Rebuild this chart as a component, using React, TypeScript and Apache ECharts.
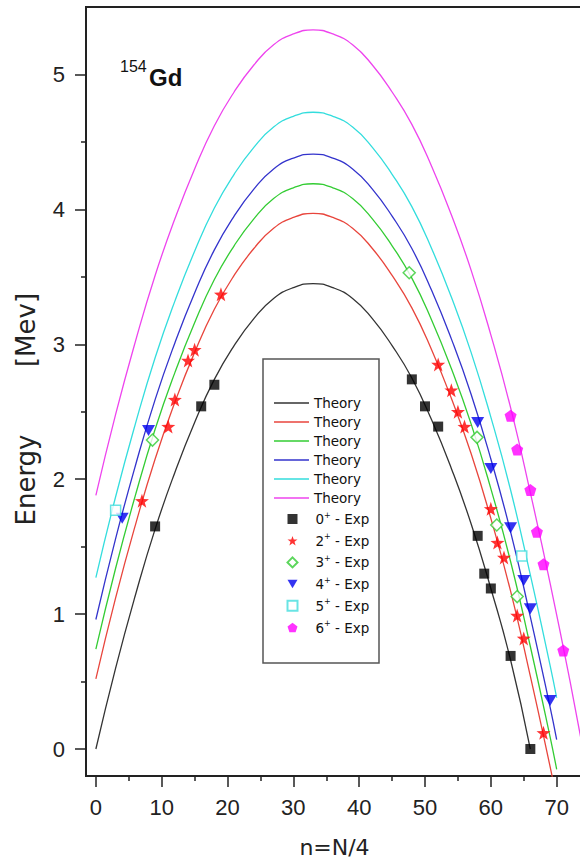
import React, { useEffect, useRef } from "react";
import * as echarts from "echarts";

// Theory curves
const nTheory = [0, 3, 6, 9, 12, 15, 18, 21, 24, 27, 30, 33, 36, 39, 42, 45, 48, 51, 54, 57, 60, 63, 66, 69, 70];
const nBlack = [0, 3, 6, 9, 12, 15, 18, 21, 24, 27, 30, 33, 36, 39, 42, 45, 48, 51, 54, 57, 60, 63, 66];
const nMagenta = [0, 3, 6, 9, 12, 15, 18, 21, 24, 27, 30, 33, 36, 39, 42, 45, 48, 51, 54, 57, 60, 63, 66, 69, 72, 75];
const theory0 = [0, 0.6, 1.14, 1.63, 2.05, 2.42, 2.74, 2.99, 3.19, 3.34, 3.42, 3.45, 3.42, 3.34, 3.19, 2.99, 2.75, 2.44, 2.08, 1.67, 1.19, 0.66, 0.0];
const theory2 = [0.52, 1.12, 1.66, 2.15, 2.57, 2.94, 3.26, 3.51, 3.71, 3.86, 3.94, 3.97, 3.94, 3.86, 3.71, 3.51, 3.27, 2.96, 2.6, 2.19, 1.71, 1.17, 0.54, -0.13, -0.37];
const theory3 = [0.74, 1.34, 1.88, 2.37, 2.79, 3.16, 3.48, 3.73, 3.93, 4.08, 4.16, 4.19, 4.16, 4.08, 3.93, 3.73, 3.49, 3.18, 2.82, 2.41, 1.93, 1.39, 0.76, 0.09, -0.15];
const theory4 = [0.96, 1.56, 2.1, 2.59, 3.01, 3.38, 3.7, 3.95, 4.15, 4.3, 4.38, 4.41, 4.38, 4.3, 4.15, 3.95, 3.71, 3.4, 3.04, 2.63, 2.15, 1.61, 0.98, 0.31, 0.07];
const theory5 = [1.27, 1.87, 2.41, 2.9, 3.32, 3.69, 4.01, 4.26, 4.46, 4.61, 4.69, 4.72, 4.69, 4.61, 4.46, 4.26, 4.02, 3.71, 3.35, 2.94, 2.46, 1.92, 1.29, 0.62, 0.38];
const theory6 = [1.88, 2.48, 3.02, 3.51, 3.93, 4.3, 4.62, 4.87, 5.07, 5.22, 5.3, 5.33, 5.3, 5.22, 5.07, 4.87, 4.63, 4.32, 3.96, 3.55, 3.07, 2.53, 1.9, 1.23, 0.51, -0.26];

// Experimental points
const exp0N = [9, 16, 18, 48, 50, 52, 58, 59, 60, 63, 66];
const exp0E = [1.65, 2.54, 2.7, 2.74, 2.54, 2.39, 1.58, 1.3, 1.19, 0.69, 0.0];
const exp2N = [7, 11, 12, 14, 15, 19, 52, 54, 55, 56, 60, 61, 62, 64, 65, 68];
const exp2E = [1.84, 2.39, 2.59, 2.88, 2.96, 3.37, 2.85, 2.66, 2.5, 2.39, 1.78, 1.53, 1.42, 0.99, 0.82, 0.12];
const exp3N = [8.6, 47.6, 57.9, 60.9, 64];
const exp3E = [2.29, 3.53, 2.31, 1.66, 1.13];
const exp4N = [4, 8, 58, 60, 63, 65, 66, 69];
const exp4E = [1.71, 2.36, 2.42, 2.08, 1.64, 1.25, 1.04, 0.36];
const exp5N = [3, 64.7];
const exp5E = [1.77, 1.43];
const exp6N = [63, 64, 66, 67, 68, 71];
const exp6E = [2.47, 2.22, 1.92, 1.61, 1.37, 0.73];

// Axis ticks
const xMajor = [0, 10, 20, 30, 40, 50, 60, 70];
const xMinor = [5, 15, 25, 35, 45, 55, 65];
const yMajor = [0, 1, 2, 3, 4, 5];
const yMinor = [0.5, 1.5, 2.5, 3.5, 4.5];

const zip = (xs: number[], ys: number[]) => xs.map((x, i) => [x, ys[i]]);

const STAR = "path://M0,-10L2.35,-3.24L9.51,-3.09L3.8,1.24L5.88,8.09L0,4L-5.88,8.09L-3.8,1.24L-9.51,-3.09L-2.35,-3.24Z";
const PENT = "path://M0,-10L9.51,-3.09L5.88,8.09L-5.88,8.09L-9.51,-3.09Z";
const TRI_DOWN = "path://M-10,-8L10,-8L0,9Z";

const AX = "#222";
const NARROW = "'Liberation Sans Narrow', 'Liberation Sans', Arial, sans-serif";
const DEJA = "'DejaVu Sans', sans-serif";

export default function App() {
  const ref = useRef<HTMLDivElement>(null);
  useEffect(() => {
    const chart = echarts.init(ref.current!, null, { renderer: "svg" });
    const lineS = (name: string, xs: number[], ys: number[], color: string) => ({
      name,
      type: "line",
      data: zip(xs, ys),
      smooth: true,
      symbol: "none",
      showSymbol: false,
      lineStyle: { color, width: 1.3 },
      itemStyle: { color },
      clip: true,
      z: 2,
    });
    const scat = (name: string, xs: number[], ys: number[], symbol: string, size: any, style: any) => ({
      name,
      type: "scatter",
      data: zip(xs, ys),
      symbol,
      symbolSize: size,
      itemStyle: style,
      z: 3,
    });
    const option: any = {
      animation: false,
      backgroundColor: "#fff",
      grid: {
        left: 86,
        top: 7,
        right: -3,
        bottom: 84,
        show: true,
        borderColor: AX,
        borderWidth: 2,
        backgroundColor: "transparent",
        containLabel: false,
        outerBoundsMode: "none",
      },
      xAxis: [
        {
          type: "value",
          min: -1.5,
          max: 74,
          position: "bottom",
          axisLine: { show: true, onZero: false, lineStyle: { color: AX, width: 2 } },
          axisTick: { show: true, length: 11, customValues: xMajor, lineStyle: { color: AX, width: 1.5 } },
          axisLabel: { customValues: xMajor, margin: 20, fontSize: 22, fontFamily: NARROW, color: AX },
          splitLine: { show: false },
          name: "n=N/4",
          nameLocation: "middle",
          nameGap: 61,
          nameTextStyle: { fontSize: 22, lineHeight: 20, fontFamily: DEJA, color: AX },
        },
        {
          type: "value",
          min: -1.5,
          max: 74,
          position: "bottom",
          axisLine: { show: false, onZero: false },
          axisTick: { show: true, length: 5, customValues: xMinor, lineStyle: { color: AX, width: 1.5 } },
          axisLabel: { show: false },
          splitLine: { show: false },
        },
      ],
      yAxis: [
        {
          type: "value",
          min: -0.2,
          max: 5.5,
          position: "left",
          axisLine: { show: true, onZero: false, lineStyle: { color: AX, width: 2 } },
          axisTick: { show: true, length: 11, customValues: yMajor, lineStyle: { color: AX, width: 1.5 } },
          axisLabel: { customValues: yMajor, margin: 21, fontSize: 22, fontFamily: NARROW, color: AX },
          splitLine: { show: false },
        },
        {
          type: "value",
          min: -0.2,
          max: 5.5,
          position: "left",
          axisLine: { show: false, onZero: false },
          axisTick: { show: true, length: 5, customValues: yMinor, lineStyle: { color: AX, width: 1.5 } },
          axisLabel: { show: false },
          splitLine: { show: false },
        },
      ],
      legend: [
        {
          orient: "vertical",
          left: 274,
          top: 395,
          padding: 0,
          itemGap: 3,
          itemWidth: 35,
          itemHeight: 1.6,
          icon: "rect",
          selectedMode: false,
          data: ["T0", "T2", "T3", "T4", "T5", "T6"],
          formatter: () => "Theory",
          textStyle: { fontSize: 13.5, lineHeight: 16, fontFamily: DEJA, color: "#111" },
        },
        {
          orient: "vertical",
          left: 286.5,
          top: 511,
          padding: 0,
          itemGap: 5.7,
          itemWidth: 10,
          itemHeight: 10,
          selectedMode: false,
          data: ["E0", "E2", "E3", "E4", "E5", "E6"],
          formatter: (name: string) => name.slice(1) + "{s|+} - Exp",
          textStyle: {
            fontSize: 13.5,
            lineHeight: 16,
            fontFamily: DEJA,
            color: "#111",
            padding: [0, 0, 0, 13],
            rich: {
              s: { fontSize: 8, lineHeight: 16, verticalAlign: "top", fontFamily: DEJA, color: "#111" },
            },
          },
        },
      ],
      graphic: [
        {
          type: "rect",
          shape: { x: 263, y: 359, width: 116, height: 304 },
          style: { fill: "none", stroke: "#555", lineWidth: 1.5 },
          z: 1,
        },
        {
          type: "text",
          x: 120,
          y: 66,
          style: { text: "154", fontSize: 16, fontFamily: "'Liberation Sans', Arial, sans-serif", fill: "#111", align: "left", verticalAlign: "middle" },
        },
        {
          type: "text",
          x: 149,
          y: 77,
          style: { text: "Gd", fontSize: 24, fontWeight: "bold", fontFamily: "'Liberation Sans', Arial, sans-serif", fill: "#111", align: "left", verticalAlign: "middle" },
        },
        {
          type: "text",
          x: 26,
          y: 480,
          rotation: Math.PI / 2,
          style: { text: "Energy", fontSize: 26, fontFamily: DEJA, fill: AX, align: "center", verticalAlign: "middle" },
        },
        {
          type: "text",
          x: 26,
          y: 330,
          rotation: Math.PI / 2,
          style: { text: "[Mev]", fontSize: 26, fontFamily: DEJA, fill: AX, align: "center", verticalAlign: "middle" },
        },
      ],
      series: [
        lineS("T0", nBlack, theory0, "#333333"),
        lineS("T2", nTheory, theory2, "#e8453c"),
        lineS("T3", nTheory, theory3, "#33cc33"),
        lineS("T4", nTheory, theory4, "#3333cc"),
        lineS("T5", nTheory, theory5, "#33dddd"),
        lineS("T6", nMagenta, theory6, "#ee44ee"),
        scat("E0", exp0N, exp0E, "rect", 10, { color: "#000" }),
        scat("E2", exp2N, exp2E, STAR, 14, { color: "#ff0000" }),
        scat("E3", exp3N, exp3E, "diamond", 12, { color: "#ffffff", borderColor: "#33cc33", borderWidth: 1.5 }),
        scat("E4", exp4N, exp4E, TRI_DOWN, [13, 11], { color: "#0000ee" }),
        scat("E5", exp5N, exp5E, "rect", 10, { color: "#ffffff", borderColor: "#44dddd", borderWidth: 1.5 }),
        scat("E6", exp6N, exp6E, PENT, 12, { color: "#ff00ff" }),
      ],
    };
    chart.setOption(option);
    return () => chart.dispose();
  }, []);
  return (
    <div
      ref={ref}
      style={{ position: "fixed", left: 0, top: 0, width: 580, height: 860, background: "#fff" }}
    />
  );
}
